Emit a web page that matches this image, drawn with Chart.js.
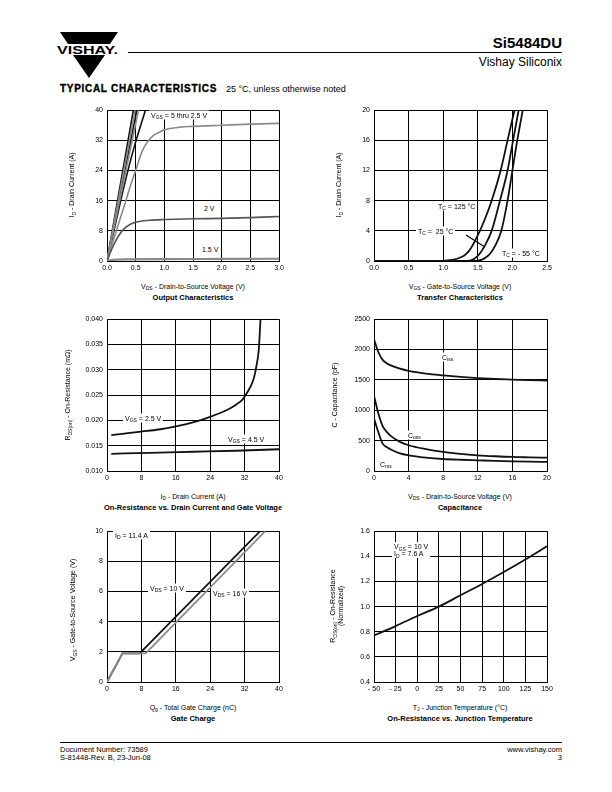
<!DOCTYPE html>
<html>
<head>
<meta charset="utf-8">
<script src="https://cdn.jsdelivr.net/npm/chart.js@4/dist/chart.umd.min.js"></script>
<style>
body{margin:0;width:612px;height:792px;position:relative;background:#fff;color:#000;font-family:"Liberation Sans",Arial,sans-serif;overflow:hidden}
.a{position:absolute;white-space:nowrap;line-height:1}
canvas{position:absolute}
.xt{font-size:7px;transform:translate(-50%,-50%)}
.yt{font-size:7px;transform:translate(-50%,-50%) rotate(-90deg);text-align:center;line-height:8px}
.cap{font-size:7.5px;font-weight:bold;transform:translate(-50%,-50%)}
.lb{font-size:7px;background:#fff;padding:1px 2px;transform:translateY(-50%)}
sub{font-size:5px;vertical-align:-1.5px;line-height:0}
</style>
</head>
<body>

<svg class="a" style="left:0;top:0" width="612" height="100">
  <polygon points="60,32 118,32 110,44 68,44" fill="#000"/>
  <polygon points="73,55 105,55 89,78" fill="#000"/>
  <text x="57" y="53.5" font-family="Liberation Sans" font-weight="bold" font-size="11.5" textLength="61" lengthAdjust="spacingAndGlyphs">VISHAY.</text>
  <line x1="128" y1="52.5" x2="562" y2="52.5" stroke="#000" stroke-width="1"/>
</svg>
<div class="a" style="right:50px;top:35px;font-size:15px;font-weight:bold">Si5484DU</div>
<div class="a" style="right:50px;top:56px;font-size:12px">Vishay Siliconix</div>
<div class="a" style="left:60px;top:84px;font-size:10px;font-weight:bold;letter-spacing:0.7px;-webkit-text-stroke:0.35px #000">TYPICAL CHARACTERISTICS</div>
<div class="a" style="left:226px;top:85px;font-size:9px">25 °C, unless otherwise noted</div>

<canvas id="c1"></canvas>
<canvas id="c2"></canvas>
<canvas id="c3"></canvas>
<canvas id="c4"></canvas>
<canvas id="c5"></canvas>
<canvas id="c6"></canvas>

<!-- chart 1 -->
<div class="a yt" style="left:72px;top:185px">I<sub>D</sub> - Drain Current (A)</div>
<div class="a xt" style="left:193px;top:286px">V<sub>DS</sub> - Drain-to-Source Voltage (V)</div>
<div class="a cap" style="left:193px;top:298px">Output Characteristics</div>
<div class="a lb" style="left:149px;top:115px">V<sub>GS</sub> = 5 thru 2.5 V</div>
<div class="a lb" style="left:202px;top:208px">2 V</div>
<div class="a lb" style="left:200px;top:249px">1.5 V</div>

<!-- chart 2 -->
<div class="a yt" style="left:339px;top:185px">I<sub>D</sub> - Drain Current (A)</div>
<div class="a xt" style="left:460px;top:286px">V<sub>GS</sub> - Gate-to-Source Voltage (V)</div>
<div class="a cap" style="left:460px;top:298px">Transfer Characteristics</div>
<div class="a lb" style="left:436px;top:206px">T<sub>C</sub> = 125 °C</div>
<div class="a lb" style="left:416px;top:231px">T<sub>C</sub> = &nbsp;25 °C</div>
<svg class="a" style="left:0;top:0" width="612" height="300"><line x1="466" y1="235" x2="484" y2="246.5" stroke="#000" stroke-width="1.2"/></svg>
<div class="a lb" style="left:500px;top:253px">T<sub>C</sub> = - 55 °C</div>

<!-- chart 3 -->
<div class="a yt" style="left:68px;top:395px">R<sub>DS(on)</sub> - On-Resistance (mΩ)</div>
<div class="a xt" style="left:193px;top:496px">I<sub>D</sub> - Drain Current (A)</div>
<div class="a cap" style="left:193px;top:508px">On-Resistance vs. Drain Current and Gate Voltage</div>
<div class="a lb" style="left:123px;top:418px">V<sub>GS</sub> = 2.5 V</div>
<div class="a lb" style="left:226px;top:439px">V<sub>GS</sub> = 4.5 V</div>

<!-- chart 4 -->
<div class="a yt" style="left:335px;top:395px">C - Capacitance (pF)</div>
<div class="a xt" style="left:460px;top:496px">V<sub>DS</sub> - Drain-to-Source Voltage (V)</div>
<div class="a cap" style="left:460px;top:508px">Capacitance</div>
<div class="a lb" style="left:440px;top:357px">C<sub>iss</sub></div>
<div class="a lb" style="left:406px;top:435px">C<sub>oss</sub></div>
<div class="a lb" style="left:378px;top:464px">C<sub>rss</sub></div>

<!-- chart 5 -->
<div class="a yt" style="left:73px;top:610px">V<sub>GS</sub> - Gate-to-Source Voltage (V)</div>
<div class="a xt" style="left:193px;top:707px">Q<sub>g</sub> - Total Gate Charge (nC)</div>
<div class="a cap" style="left:193px;top:719px">Gate Charge</div>
<div class="a lb" style="left:113px;top:535px">I<sub>D</sub> = 11.4 A</div>
<div class="a lb" style="left:148px;top:588px">V<sub>DS</sub> = 10 V</div>
<div class="a lb" style="left:211px;top:593px">V<sub>DS</sub> = 16 V</div>

<!-- chart 6 -->
<div class="a yt" style="left:337px;top:606px">R<sub>DS(on)</sub> - On-Resistance<br>(Normalized)</div>
<div class="a xt" style="left:460px;top:707px">T<sub>J</sub> - Junction Temperature (°C)</div>
<div class="a cap" style="left:460px;top:719px">On-Resistance vs. Junction Temperature</div>
<div class="a lb" style="left:392px;top:550px;line-height:7px">V<sub>GS</sub> = 10 V<br>I<sub>D</sub> = 7.6 A</div>

<!-- footer -->
<svg class="a" style="left:0;top:730px" width="612" height="20"><line x1="60" y1="12.5" x2="562" y2="12.5" stroke="#000" stroke-width="1"/></svg>
<div class="a" style="left:60px;top:746px;font-size:7.5px">Document Number: 73589</div>
<div class="a" style="left:60px;top:754px;font-size:7.5px">S-81448-Rev. B, 23-Jun-08</div>
<div class="a" style="right:50px;top:746px;font-size:7.5px">www.vishay.com</div>
<div class="a" style="right:50px;top:754px;font-size:7.5px">3</div>

<script>
// Output characteristics: VDS (V) vs ID (A)
const out5_x = [0, 0.46];              const out5_y = [0, 40];
const out45_x = [0, 0.49];             const out45_y = [0, 40];
const out4_x = [0, 0.52];              const out4_y = [0, 40];
const out35_x = [0, 0.55];             const out35_y = [0, 40];
const out3_x = [0, 0.15, 0.3, 0.47, 0.67]; const out3_y = [0, 10, 20, 30, 40];
const out25_x = [0, 0.1, 0.23, 0.3, 0.41, 0.5, 0.61, 0.7, 0.8, 0.93, 1.0, 1.28, 1.5, 2.0, 2.5, 3.0];
const out25_y = [0, 5, 11.3, 14.5, 20, 24, 29, 31.5, 33.2, 34.3, 34.8, 35.5, 35.7, 36, 36.3, 36.5];
const out2_x = [0, 0.09, 0.15, 0.23, 0.3, 0.4, 0.5, 0.75, 1.0, 1.5, 2.0, 2.5, 3.0];
const out2_y = [0, 3.4, 5.3, 7.3, 8.6, 9.7, 10.3, 10.8, 11, 11.2, 11.3, 11.5, 11.8];
const out15_x = [0, 0.1, 0.3, 1.0, 2.0, 3.0];
const out15_y = [0, 0.3, 0.45, 0.5, 0.55, 0.6];

// Transfer characteristics: VGS (V) vs ID (A)
const tc125_x = [0, 0.9, 1.0, 1.1, 1.2, 1.3, 1.34, 1.4, 1.53, 1.6, 1.7, 1.83, 1.93, 2.03];
const tc125_y = [0, 0, 0.02, 0.1, 0.3, 0.7, 1.0, 1.7, 4, 5.5, 8, 12, 16, 20];
const tc25_x = [0, 1.3, 1.4, 1.45, 1.53, 1.6, 1.7, 1.82, 1.93, 2.01, 2.09];
const tc25_y = [0, 0, 0.1, 0.3, 1.0, 2.0, 4, 8, 12, 16, 20];
const tcm55_x = [0, 1.45, 1.55, 1.62, 1.68, 1.75, 1.84, 1.93, 2.0, 2.07, 2.15];
const tcm55_y = [0, 0, 0.15, 0.5, 1.0, 2.0, 4, 8, 12, 16, 20];

// On-resistance vs drain current: ID (A) vs RDS(on)
const ron25_x = [1, 4, 8, 12, 16, 20, 24, 28, 30, 31.5, 32.3, 33.4, 34.2, 34.8, 35.3, 35.7];
const ron25_y = [0.0171, 0.0174, 0.0178, 0.0182, 0.0188, 0.0196, 0.0207, 0.0221, 0.0231, 0.0241, 0.0251, 0.0267, 0.0285, 0.031, 0.034, 0.040];
const ron45_x = [1, 10, 20, 30, 40];
const ron45_y = [0.0134, 0.0136, 0.0138, 0.0140, 0.0143];

// Capacitance: VDS (V) vs C (pF)
const capV = [0, 0.5, 1, 1.5, 2, 3, 4, 6, 8, 10, 12, 14, 16, 18, 20];
const ciss = [2170, 1960, 1830, 1770, 1735, 1685, 1650, 1605, 1575, 1550, 1530, 1515, 1505, 1495, 1490];
const coss = [1240, 950, 740, 640, 570, 480, 424, 360, 314, 282, 259, 243, 231, 225, 220];
const crss = [870, 640, 450, 390, 350, 290, 259, 222, 198, 185, 176, 167, 160, 154, 149];

// Gate charge: Qg (nC) vs VGS (V)
const qg10_x = [0, 3.6, 7.6, 35.6];  const qg10_y = [0, 1.9, 1.9, 10];
const qg16_x = [0, 3.6, 9.0, 36.8];  const qg16_y = [0, 1.9, 1.9, 10];

// On-resistance vs junction temperature
const tj = [-50, -25, 0, 25, 50, 75, 100, 125, 150];
const rNorm = [0.77, 0.845, 0.925, 1.0, 1.09, 1.18, 1.275, 1.375, 1.48];

Chart.defaults.font.family = '"Liberation Sans", Arial, sans-serif';
Chart.defaults.font.size = 7;
Chart.defaults.color = '#000';

const BLACK = '#111', GRAY = '#8a8a8a', DARK = '#555';

function pts(xs, ys) {
  return xs.map((x, i) => ({x: x, y: ys[i]}));
}

function line(xs, ys, color, width, smooth) {
  return {
    data: pts(xs, ys),
    showLine: true,
    borderColor: color,
    borderWidth: width || 1.6,
    pointRadius: 0,
    fill: false,
    tension: 0,
    cubicInterpolationMode: smooth ? 'monotone' : 'default'
  };
}

function makeChart(id, box, xs, ys, datasets) {
  const cv = document.getElementById(id);
  cv.width = box.r - box.l + 54;
  cv.height = box.b - box.t + 24;
  cv.style.left = (box.l - 40) + 'px';
  cv.style.top = (box.t - 8) + 'px';
  const grid = {color: '#000', lineWidth: 1, drawTicks: false};
  const border = {color: '#000', width: 1};
  new Chart(cv, {
    type: 'scatter',
    data: {datasets: datasets},
    options: {
      responsive: false,
      animation: false,
      events: [],
      layout: {padding: {top: 8, right: 14, left: 0, bottom: 0}},
      plugins: {legend: {display: false}, tooltip: {enabled: false}},
      scales: {
        x: {
          type: 'linear', min: xs.min, max: xs.max, grid: grid, border: border,
          ticks: {stepSize: xs.step, padding: 3, maxRotation: 0, autoSkip: false, callback: xs.fmt},
          afterFit: s => { s.height = 16; }
        },
        y: {
          type: 'linear', min: ys.min, max: ys.max, grid: grid, border: border,
          ticks: {stepSize: ys.step, padding: 4, autoSkip: false, callback: ys.fmt},
          afterFit: s => { s.width = 40; }
        }
      }
    }
  });
}

const f0 = v => String(v);
const f1 = v => v.toFixed(1);
const f3 = v => v.toFixed(3);
const fneg = v => v < 0 ? '- ' + (-v) : String(v);

makeChart('c1', {l: 107, r: 279, t: 110, b: 261},
  {min: 0, max: 3, step: 0.5, fmt: f1}, {min: 0, max: 40, step: 8, fmt: f0}, [
    line(out15_x, out15_y, GRAY, 2.2, true),
    line(out2_x, out2_y, DARK, 1.6, true),
    line(out25_x, out25_y, GRAY, 1.6, true),
    line(out35_x, out35_y, GRAY, 1.6),
    line(out45_x, out45_y, GRAY, 1.6),
    line(out5_x, out5_y, BLACK, 1.6),
    line(out4_x, out4_y, BLACK, 1.6),
    line(out3_x, out3_y, BLACK, 1.6, true)
  ]);

makeChart('c2', {l: 374, r: 547, t: 110, b: 261},
  {min: 0, max: 2.5, step: 0.5, fmt: f1}, {min: 0, max: 20, step: 4, fmt: f0}, [
    line(tc125_x, tc125_y, BLACK, 1.8, true),
    line(tc25_x, tc25_y, BLACK, 1.8, true),
    line(tcm55_x, tcm55_y, BLACK, 1.8, true)
  ]);

makeChart('c3', {l: 107, r: 279, t: 319, b: 471},
  {min: 0, max: 40, step: 8, fmt: f0}, {min: 0.010, max: 0.040, step: 0.005, fmt: f3}, [
    line(ron25_x, ron25_y, BLACK, 1.8, true),
    line(ron45_x, ron45_y, BLACK, 1.8, true)
  ]);

makeChart('c4', {l: 374, r: 547, t: 319, b: 471},
  {min: 0, max: 20, step: 4, fmt: f0}, {min: 0, max: 2500, step: 500, fmt: f0}, [
    line(capV, ciss, BLACK, 1.8, true),
    line(capV, coss, BLACK, 1.8, true),
    line(capV, crss, BLACK, 1.8, true)
  ]);

makeChart('c5', {l: 107, r: 279, t: 531, b: 682},
  {min: 0, max: 40, step: 8, fmt: f0}, {min: 0, max: 10, step: 2, fmt: f0}, [
    line(qg16_x, qg16_y, GRAY, 1.8),
    line(qg10_x, qg10_y, BLACK, 1.8)
  ]);

makeChart('c6', {l: 374, r: 547, t: 531, b: 682},
  {min: -50, max: 150, step: 25, fmt: fneg}, {min: 0.4, max: 1.6, step: 0.2, fmt: f1}, [
    line(tj, rNorm, BLACK, 1.8, true)
  ]);
</script>
</body>
</html>
